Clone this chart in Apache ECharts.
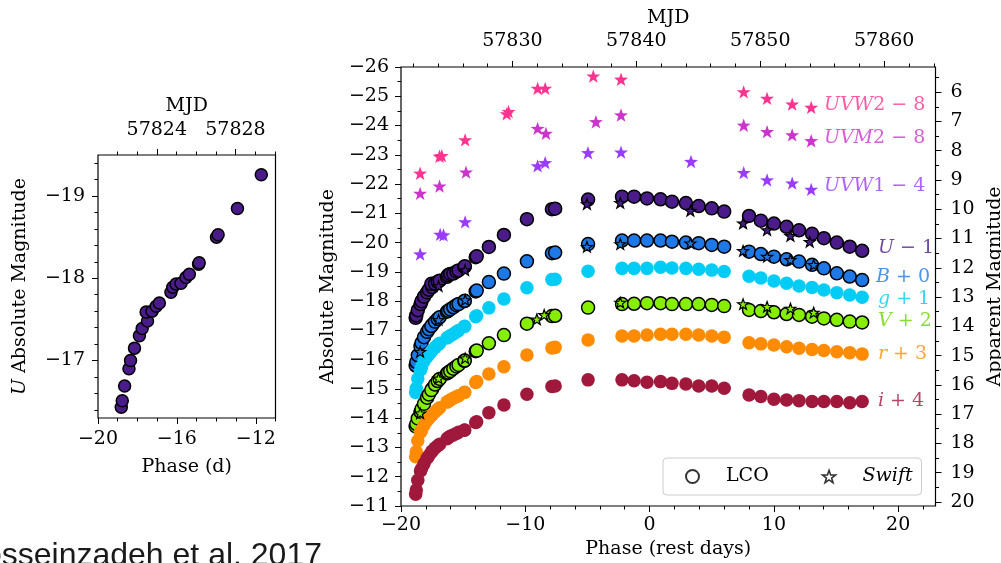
<!DOCTYPE html>
<html>
<head>
<meta charset="utf-8">
<title>Light curves</title>
<script src="https://cdn.jsdelivr.net/npm/echarts@6/dist/echarts.min.js"></script>
<style>
  html, body { margin: 0; padding: 0; background: #fff; }
  #chart { width: 1001px; height: 563px; }
</style>
</head>
<body>
<div id="chart"></div>
<script>
// distance modulus and MJD <-> rest-frame phase conversion
const MU = 31.14
const MJD_PEAK = 57841.07
const ONE_PLUS_Z = 1.003

// LCO epochs (rest-frame days from peak)
const lcoPhase = [
  -18.82, -18.77, -18.65, -18.43, -18.35, -18.15, -17.90, -17.76, -17.49, -17.56,
  -17.26, -17.05, -16.89, -16.30, -16.21, -16.04, -15.79, -15.54, -15.37, -14.90,
  -14.87, -13.99, -13.91, -12.93, -11.72,
  -9.87, -7.86, -7.60, -4.95, -2.22, -1.25, -0.21, 0.88, 1.80, 2.92,
  3.95, 5.00, 6.00, 8.00, 8.95, 10.00, 11.02, 12.02, 13.07, 14.02,
  15.06, 16.10, 17.10
]
// LCO absolute magnitudes (no offsets applied)
const uMag = [
  -16.43, -16.51, -16.69, -16.90, -17.00, -17.15, -17.30, -17.39, -17.48, -17.59,
  -17.60, -17.66, -17.70, -17.83, -17.89, -17.93, -17.94, -18.01, -18.05, -18.17,
  -18.19, -18.50, -18.53, -18.85, -19.26,
  -19.80, -20.14, -20.16, -20.47, -20.57, -20.57, -20.51, -20.48, -20.40, -20.35,
  -20.25, -20.17, -20.06, -19.91, -19.75, -19.65, -19.54, -19.42, -19.30, -19.15,
  -19.00, -18.86, -18.72
]
const bMag = [
  -15.80, -15.92, -16.15, -16.45, -16.57, -16.77, -16.95, -17.04, -17.19, -17.15,
  -17.30, -17.39, -17.45, -17.64, -17.67, -17.72, -17.79, -17.86, -17.90, -18.00,
  -18.01, -18.33, -18.36, -18.65, -18.94,
  -19.36, -19.64, -19.66, -19.95, -20.07, -20.07, -20.07, -20.07, -20.03, -20.00,
  -19.98, -19.92, -19.86, -19.69, -19.61, -19.52, -19.43, -19.35, -19.24, -19.12,
  -18.95, -18.84, -18.72
]
const gMag = [
  -15.88, -16.02, -16.35, -16.65, -16.75, -16.95, -17.10, -17.18, -17.32, -17.28,
  -17.42, -17.50, -17.56, -17.74, -17.77, -17.82, -17.88, -17.95, -18.00, -18.13,
  -18.14, -18.47, -18.50, -18.77, -19.07,
  -19.46, -19.74, -19.75, -20.02, -20.12, -20.12, -20.12, -20.16, -20.13, -20.12,
  -20.09, -20.06, -20.01, -19.85, -19.79, -19.69, -19.61, -19.52, -19.47, -19.38,
  -19.29, -19.21, -19.13
]
const vMag = [
  -15.72, -15.80, -15.99, -16.22, -16.31, -16.49, -16.70, -16.81, -17.01, -16.96,
  -17.15, -17.27, -17.34, -17.53, -17.56, -17.61, -17.69, -17.77, -17.82, -17.96,
  -17.97, -18.29, -18.31, -18.56, -18.84,
  -19.23, -19.49, -19.50, -19.78, -19.90, -19.91, -19.93, -19.93, -19.90, -19.90,
  -19.90, -19.87, -19.83, -19.70, -19.66, -19.62, -19.56, -19.53, -19.47, -19.41,
  -19.36, -19.30, -19.27
]
const rMag = [
  -15.68, -15.85, -16.23, -16.52, -16.59, -16.76, -16.92, -17.00, -17.12, -17.09,
  -17.22, -17.30, -17.36, -17.55, -17.57, -17.62, -17.68, -17.73, -17.77, -17.88,
  -17.89, -18.22, -18.25, -18.51, -18.76,
  -19.16, -19.40, -19.42, -19.67, -19.81, -19.81, -19.84, -19.87, -19.87, -19.87,
  -19.84, -19.81, -19.77, -19.58, -19.54, -19.50, -19.44, -19.39, -19.35, -19.31,
  -19.27, -19.24, -19.19
]
const iMag = [
  -15.40, -15.55, -15.88, -16.20, -16.27, -16.44, -16.63, -16.72, -16.88, -16.84,
  -16.98, -17.06, -17.11, -17.30, -17.33, -17.38, -17.43, -17.48, -17.52, -17.59,
  -17.60, -17.85, -17.88, -18.19, -18.45,
  -18.82, -19.08, -19.10, -19.31, -19.31, -19.28, -19.23, -19.25, -19.19, -19.17,
  -19.10, -19.10, -19.02, -18.79, -18.74, -18.65, -18.62, -18.60, -18.57, -18.57,
  -18.57, -18.53, -18.57
]

// Swift epochs and absolute magnitudes
const uvw2Phase = [-18.46, -16.90, -16.72, -14.84, -11.50, -11.35, -9.01, -8.40, -4.53, -2.30, 7.57, 9.45, 11.47, 13.00]
const uvw2Mag = [-14.37, -14.95, -14.97, -15.51, -16.40, -16.48, -17.27, -17.27, -17.69, -17.58, -17.15, -16.93, -16.73, -16.62]
const uvm2Phase = [-18.46, -16.90, -14.77, -9.01, -8.34, -4.32, -2.30, 7.57, 9.45, 11.47, 13.00]
const uvm2Mag = [-13.68, -13.93, -14.41, -15.90, -15.73, -16.13, -16.36, -16.01, -15.79, -15.68, -15.48]
const uvw1Phase = [-18.46, -16.85, -16.58, -14.84, -9.01, -8.40, -4.96, -2.30, 3.33, 7.57, 9.45, 11.47, 13.00]
const uvw1Mag = [-15.61, -16.28, -16.26, -16.71, -18.62, -18.73, -19.07, -19.09, -18.77, -18.39, -18.14, -18.03, -17.82]
const swiftUPhase = [-16.98, -14.84, -5.04, -2.36, 3.28, 7.52, 9.45, 11.33, 12.88]
const swiftUMag = [-17.52, -18.06, -20.32, -20.36, -20.09, -19.66, -19.43, -19.23, -19.03]
const swiftBPhase = [-18.46, -16.98, -14.84, -5.04, -2.36, 3.28, 7.52, 9.45, 11.33, 13.20]
const swiftBMag = [-16.27, -17.36, -18.04, -19.86, -19.95, -19.98, -19.72, -19.52, -19.41, -19.24]
const swiftVPhase = [-18.46, -16.98, -14.84, -9.07, -8.48, -2.36, 7.52, 9.45, 11.33, 13.20]
const swiftVMag = [-16.17, -17.36, -18.05, -19.38, -19.53, -19.95, -19.90, -19.81, -19.75, -19.61]

// tick labels
const leftPhaseTicks = [-20, -16, -12]
const leftMjdTicks = [57824, 57828]
const leftMagTicks = [-19, -18, -17]
const rightPhaseTicks = [-20, -10, 0, 10, 20]
const rightMjdTicks = [57830, 57840, 57850, 57860]
const absTicks = [-26, -25, -24, -23, -22, -21, -20, -19, -18, -17, -16, -15, -14, -13, -12, -11]
const appTicks = [6, 7, 8, 9, 10, 11, 12, 13, 14, 15, 16, 17, 18, 19, 20]

const FONT = 'DejaVu Serif'
const STAR = 'path://M0,-10L2.35,-3.24L9.51,-3.09L3.8,1.24L5.88,8.09L0,4L-5.88,8.09L-3.8,1.24L-9.51,-3.09L-2.35,-3.24Z'

const toMjd = p => MJD_PEAK + p * ONE_PLUS_Z
const minus = v => (v < 0 ? '\u2212' + Math.abs(v) : String(v))
// minor tick positions, skipping the majors
const steps = (a, b, s, skip) => {
  const out = []
  for (let k = 0; a + k * s <= b + 1e-9; k++) {
    const v = Math.round((a + k * s) * 100) / 100
    if (!skip.some(m => Math.abs(m - v) < 1e-6)) out.push(v)
  }
  return out
}
const pts = (xs, ys, off) => xs.map((x, i) => [x, Math.round((ys[i] + off) * 100) / 100])

const tickLine = { color: '#000', width: 1 }
const labelFont = { fontFamily: FONT, fontSize: 19, color: '#000' }
const nameFont = { fontFamily: FONT, fontSize: 19, color: '#000' }
const noLine = { show: false, onZero: false }

const majorX = (grid, pos, min, max, ticks, margin, extra) => Object.assign({
  gridIndex: grid, type: 'value', position: pos, min, max,
  axisLine: noLine, splitLine: { show: false },
  axisTick: { show: true, customValues: ticks, length: 6, lineStyle: tickLine },
  axisLabel: Object.assign({ customValues: ticks, formatter: minus, margin }, labelFont)
}, extra)
const minorX = (grid, pos, min, max, ticks) => ({
  gridIndex: grid, type: 'value', position: pos, min, max,
  axisLine: noLine, splitLine: { show: false }, axisLabel: { show: false },
  axisTick: { show: true, customValues: ticks, length: 3.5, lineStyle: tickLine }
})
const majorY = (grid, pos, min, max, ticks, margin, extra) => Object.assign({
  gridIndex: grid, type: 'value', position: pos, min, max, inverse: true,
  axisLine: noLine, splitLine: { show: false },
  axisTick: { show: true, customValues: ticks, length: 6, lineStyle: tickLine },
  axisLabel: Object.assign({ customValues: ticks, formatter: minus, margin }, labelFont)
}, extra)
const minorY = (grid, pos, min, max, ticks) => ({
  gridIndex: grid, type: 'value', position: pos, min, max, inverse: true,
  axisLine: noLine, splitLine: { show: false }, axisLabel: { show: false },
  axisTick: { show: true, customValues: ticks, length: 3.5, lineStyle: tickLine }
})

const chart = echarts.init(document.getElementById('chart'))

// axis indices used by the series in the big panel
const BX = 4
const BY = 2

const lcoBands = [
  { mag: uMag, off: -1, color: '#4a1c89', edge: true },
  { mag: bMag, off: 0, color: '#1e78e6', edge: true },
  { mag: gMag, off: 1, color: '#00ccf5', edge: false },
  { mag: vMag, off: 2, color: '#86ef00', edge: true },
  { mag: rMag, off: 3, color: '#ff8c00', edge: false },
  { mag: iMag, off: 4, color: '#a0183c', edge: false }
]
const swiftBands = [
  { phase: uvw2Phase, mag: uvw2Mag, off: -8, color: '#ff3390', edge: false },
  { phase: uvm2Phase, mag: uvm2Mag, off: -8, color: '#cc35cc', edge: false },
  { phase: uvw1Phase, mag: uvw1Mag, off: -4, color: '#9a3cff', edge: false },
  { phase: swiftUPhase, mag: swiftUMag, off: -1, color: '#4a1c89', edge: true },
  { phase: swiftBPhase, mag: swiftBMag, off: 0, color: '#1e78e6', edge: true },
  { phase: swiftVPhase, mag: swiftVMag, off: 2, color: '#86ef00', edge: true }
]
const bandLabels = [
  { it: 'UVW', rm: '2 \u2212 8', at: [13.98, -24.70], color: '#ff3390' },
  { it: 'UVM', rm: '2 \u2212 8', at: [13.98, -23.57], color: '#cc35cc' },
  { it: 'UVW', rm: '1 \u2212 4', at: [13.98, -21.93], color: '#9a3cff' },
  { it: 'U', rm: ' \u2212 1', at: [18.33, -19.82], color: '#4a1c89' },
  { it: 'B', rm: ' + 0', at: [18.17, -18.83], color: '#1e78e6' },
  { it: 'g', rm: ' + 1', at: [18.33, -18.07], color: '#00ccf5' },
  { it: 'V', rm: ' + 2', at: [18.33, -17.32], color: '#6cd400' },
  { it: 'r', rm: ' + 3', at: [18.33, -16.19], color: '#ff8c00' },
  { it: 'i', rm: ' + 4', at: [18.33, -14.60], color: '#a0183c' }
]

const series = []

// small panel: early U
series.push({
  type: 'scatter', xAxisIndex: 0, yAxisIndex: 0,
  symbol: 'circle', symbolSize: 12,
  itemStyle: { color: '#4a1c89', borderColor: '#000', borderWidth: 1.5, opacity: 1 },
  data: pts(lcoPhase, uMag, 0).filter(p => p[0] <= -11)
})

lcoBands.forEach(b => {
  series.push({
    type: 'scatter', xAxisIndex: BX, yAxisIndex: BY,
    symbol: 'circle', symbolSize: b.edge ? 13 : 13.5,
    itemStyle: { color: b.color, borderColor: '#000', borderWidth: b.edge ? 1.5 : 0, opacity: 1 },
    data: pts(lcoPhase, b.mag, b.off)
  })
})
swiftBands.forEach(b => {
  series.push({
    type: 'scatter', xAxisIndex: BX, yAxisIndex: BY,
    symbol: STAR, symbolKeepAspect: true, symbolSize: b.edge ? 11 : 14,
    itemStyle: { color: b.color, borderColor: '#000', borderWidth: b.edge ? 1.2 : 0, opacity: 1 },
    data: pts(b.phase, b.mag, b.off)
  })
})

// band names drawn next to the curves
series.push({
  type: 'scatter', xAxisIndex: BX, yAxisIndex: BY, silent: true,
  symbolSize: 1, itemStyle: { color: 'rgba(0,0,0,0)' },
  data: bandLabels.map(l => ({
    value: l.at,
    label: {
      show: true, position: 'right', distance: 0,
      formatter: '{it|' + l.it + '}{rm|' + l.rm + '}',
      rich: {
        it: { fontFamily: FONT, fontSize: 19, fontStyle: 'italic', color: l.color },
        rm: { fontFamily: FONT, fontSize: 19, color: l.color }
      }
    }
  }))
})

// legend-only series
series.push({ name: 'LCO', type: 'scatter', xAxisIndex: BX, yAxisIndex: BY, data: [] })
series.push({ name: 'Swift', type: 'scatter', xAxisIndex: BX, yAxisIndex: BY, data: [] })

const option = {
  animation: false,
  backgroundColor: '#fff',
  grid: [
    { left: 98, top: 155, width: 177.5, height: 263, outerBoundsMode: 'none', containLabel: false,
      show: true, borderColor: '#000', borderWidth: 1.2 },
    { left: 401, top: 67, width: 534.5, height: 439, outerBoundsMode: 'none', containLabel: false,
      show: true, borderColor: '#000', borderWidth: 1.2 }
  ],
  xAxis: [
    majorX(0, 'bottom', -20, -11, leftPhaseTicks, 12, {
      name: 'Phase (d)', nameLocation: 'middle', nameGap: 40, nameTextStyle: nameFont
    }),
    minorX(0, 'bottom', -20, -11, steps(-19, -11, 1, leftPhaseTicks)),
    majorX(0, 'top', toMjd(-20), toMjd(-11), leftMjdTicks, 15, {
      name: 'MJD', nameLocation: 'middle', nameGap: 39, nameTextStyle: nameFont
    }),
    minorX(0, 'top', toMjd(-20), toMjd(-11), steps(57822, 57830, 1, leftMjdTicks)),
    majorX(1, 'bottom', -20, 23, rightPhaseTicks, 10, {
      name: 'Phase (rest days)', nameLocation: 'middle', nameGap: 34, nameTextStyle: nameFont
    }),
    minorX(1, 'bottom', -20, 23, steps(-18, 22, 2, rightPhaseTicks)),
    majorX(1, 'top', toMjd(-20), toMjd(23), rightMjdTicks, 16, {
      name: 'MJD', nameLocation: 'middle', nameGap: 39, nameTextStyle: nameFont
    }),
    minorX(1, 'top', toMjd(-20), toMjd(23), steps(57822, 57864, 2, rightMjdTicks))
  ],
  yAxis: [
    majorY(0, 'left', -19.5, -16.3, leftMagTicks, 13, {
      name: '{it|U} Absolute Magnitude', nameLocation: 'middle', nameGap: 68,
      nameTextStyle: Object.assign({
        rich: { it: { fontFamily: FONT, fontSize: 19, fontStyle: 'italic', color: '#000' } }
      }, nameFont)
    }),
    minorY(0, 'left', -19.5, -16.3, steps(-19.4, -16.4, 0.2, leftMagTicks)),
    majorY(1, 'left', -26, -11, absTicks, 12, {
      name: 'Absolute Magnitude', nameLocation: 'middle', nameGap: 55, nameTextStyle: nameFont
    }),
    minorY(1, 'left', -26, -11, steps(-25.5, -11.5, 1, [])),
    majorY(1, 'right', -26 + MU, -11 + MU, appTicks, 15, {
      name: 'Apparent Magnitude', nameLocation: 'middle', nameGap: 45, nameRotate: 90,
      nameTextStyle: nameFont
    }),
    minorY(1, 'right', -26 + MU, -11 + MU, steps(5.5, 19.5, 1, []))
  ],
  legend: {
    left: 663, top: 458,
    padding: [9, 9, 9, 22],
    itemWidth: 13, itemHeight: 13, itemGap: 53,
    selectedMode: false,
    backgroundColor: '#fff', borderColor: '#cccccc', borderWidth: 1, borderRadius: 4,
    textStyle: { fontFamily: FONT, fontSize: 19, color: '#000', padding: [0, 0, 0, 22] },
    data: [
      { name: 'LCO', icon: 'circle', itemStyle: { color: 'rgba(0,0,0,0)', borderColor: '#000', borderWidth: 2 } },
      { name: 'Swift', icon: STAR, itemStyle: { color: '#fff', borderColor: '#000', borderWidth: 1.6 }, textStyle: { fontStyle: 'italic' } }
    ]
  },
  graphic: [
    {
      type: 'text', x: 322, y: 540, silent: true,
      style: {
        text: 'Hosseinzadeh et al. 2017',
        fontFamily: 'Liberation Sans', fontSize: 32, fill: '#1a1a1a',
        align: 'right', verticalAlign: 'top'
      }
    }
  ],
  series
}

chart.setOption(option)
window.addEventListener('resize', () => chart.resize())
</script>
</body>
</html>
